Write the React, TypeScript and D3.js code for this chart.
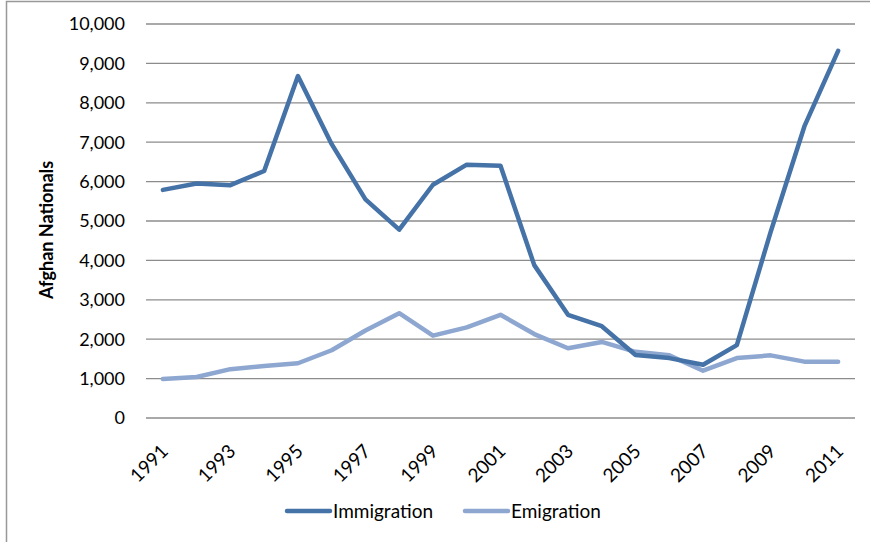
import { useEffect, useRef } from 'react';
import * as d3 from 'd3';

const years = d3.range(1991, 2012).map(String);

const immigration = [
  5790, 5950, 5910, 6270, 8680, 6950, 5550, 4780, 5920, 6430, 6400, 3880, 2620,
  2330, 1600, 1520, 1350, 1850, 4720, 7400, 9320,
];

const emigration = [
  990, 1040, 1240, 1320, 1390, 1720, 2220, 2660, 2090, 2300, 2620, 2130, 1770,
  1930, 1680, 1590, 1200, 1520, 1590, 1430, 1430,
];

const yTicks = [0, 1000, 2000, 3000, 4000, 5000, 6000, 7000, 8000, 9000, 10000];

const seriesNames = ['Immigration', 'Emigration'];
const seriesColors = ['#4572A7', '#8DA7D0'];

const FONT = 'Lato, "Open Sans", sans-serif';

export default function App() {
  const svgRef = useRef<SVGSVGElement>(null);

  useEffect(() => {
    if (!svgRef.current) return;
    const svg = d3.select(svgRef.current);
    svg.selectAll('*').remove();

    // outer chart border
    svg
      .append('rect')
      .attr('x', 6.5)
      .attr('y', 1.5)
      .attr('width', 880)
      .attr('height', 560)
      .attr('fill', '#fff')
      .attr('stroke', '#999')
      .attr('stroke-width', 1.5);

    const x = d3.scalePoint<string>().domain(years).range([146, 855]).padding(0.5);
    const y = d3.scaleLinear().domain([0, 10000]).range([418, 24]);

    // gridlines
    svg
      .append('g')
      .selectAll('line')
      .data(yTicks)
      .enter()
      .append('line')
      .attr('x1', 146)
      .attr('x2', 855)
      .attr('y1', (d) => y(d))
      .attr('y2', (d) => y(d))
      .attr('stroke', '#8c8c8c')
      .attr('stroke-width', 1.3);

    // y tick labels
    svg
      .append('g')
      .selectAll('text')
      .data(yTicks)
      .enter()
      .append('text')
      .attr('x', 125)
      .attr('y', (d) => y(d))
      .attr('dy', '0.35em')
      .attr('text-anchor', 'end')
      .style('font-family', FONT)
      .style('font-size', '18px')
      .attr('fill', '#000')
      .text((d) => d3.format(',')(d));

    // y axis title
    svg
      .append('text')
      .attr('transform', 'translate(53, 230) rotate(-90)')
      .attr('text-anchor', 'middle')
      .style('font-family', FONT)
      .style('font-size', '18px')
      .style('font-weight', 'bold')
      .text('Afghan Nationals');

    // x tick labels (every other year)
    svg
      .append('g')
      .selectAll('text')
      .data(years.filter((_, i) => i % 2 === 0))
      .enter()
      .append('text')
      .attr('transform', (d) => `translate(${(x(d) ?? 0) - 3}, 443) rotate(-45)`)
      .attr('text-anchor', 'end')
      .attr('dy', '0.7em')
      .style('font-family', FONT)
      .style('font-size', '19px')
      .text((d) => d);

    const series = [immigration, emigration];
    const line = d3
      .line<number>()
      .x((_, i) => x(years[i]) ?? 0)
      .y((d) => y(d));

    // draw emigration first so immigration sits on top
    [1, 0].forEach((s) => {
      svg
        .append('path')
        .datum(series[s])
        .attr('fill', 'none')
        .attr('stroke', seriesColors[s])
        .attr('stroke-width', 4.5)
        .attr('stroke-linejoin', 'round')
        .attr('stroke-linecap', 'round')
        .attr('d', line);
    });

    // legend
    const legendX = [287, 465];
    const legend = svg
      .append('g')
      .selectAll('g')
      .data(seriesNames)
      .enter()
      .append('g')
      .attr('transform', (_, i) => `translate(${legendX[i]}, 511)`);
    legend
      .append('line')
      .attr('x1', 0)
      .attr('x2', 43)
      .attr('stroke', (_, i) => seriesColors[i])
      .attr('stroke-width', 4.5)
      .attr('stroke-linecap', 'round');
    legend
      .append('text')
      .attr('x', 46)
      .attr('dy', '0.35em')
      .style('font-family', FONT)
      .style('font-size', '19px')
      .text((d) => d);
  }, []);

  return (
    <svg
      ref={svgRef}
      width={870}
      height={542}
      style={{ position: 'absolute', left: 0, top: 0, background: '#fff' }}
    />
  );
}
